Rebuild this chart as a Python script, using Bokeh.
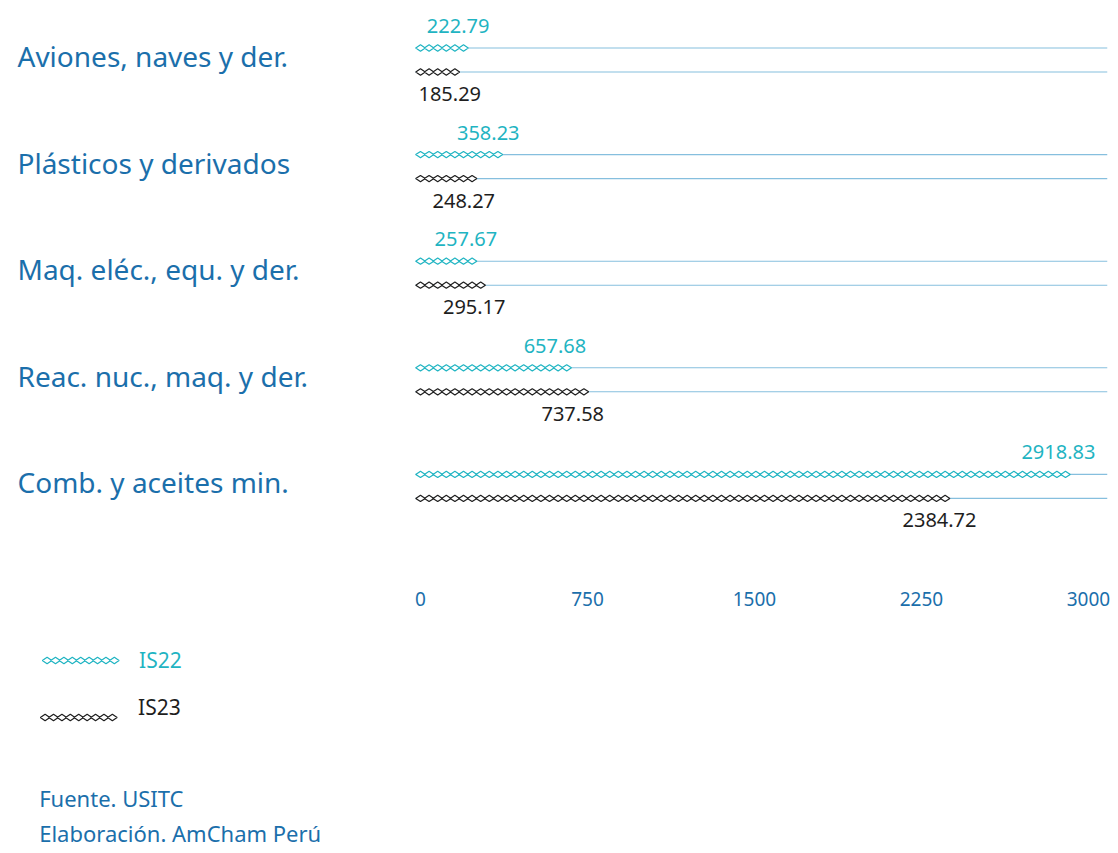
import numpy as np
from bokeh.plotting import figure
from bokeh.layouts import column
from bokeh.models import FixedTicker, Range1d
from bokeh.core.properties import value
from bokeh.embed import file_html
from bokeh.resources import INLINE

# ---------------- data ----------------
categories = ["Aviones, naves y der.", "Plásticos y derivados", "Maq. eléc., equ. y der.",
              "Reac. nuc., maq. y der.", "Comb. y aceites min."]
is22 = [222.79, 358.23, 257.67, 657.68, 2918.83]
is23 = [185.29, 248.27, 295.17, 737.58, 2384.72]
series_names = ["IS22", "IS23"]
x_ticks = [0, 750, 1500, 2250, 3000]
source_notes = ["Fuente. USITC", "Elaboración. AmCham Perú"]

# ---------------- style ----------------
FONT = "Noto Sans"
C_TEAL = "#1fb4c2"
C_DARK = "#1e1e1e"
C_BLUE = "#1b6fab"
C_TRACK = "#86bfde"

W = 1110
H1 = 613
FRAME_W = 1108 - 10
PX_PER_UNIT = 668 / 3000.0
X0_PX = 411
x_start = -X0_PX / PX_PER_UNIT
x_end = (FRAME_W - X0_PX) / PX_PER_UNIT
STEP = 8.6 / PX_PER_UNIT

PX_PER_CAT = 106.6
n = len(categories)
y_top = (n - 1) + 50.5 / PX_PER_CAT
y_bot = y_top - 570 / PX_PER_CAT
OFF = 12 / PX_PER_CAT

cat_y = [n - 1 - i for i in range(n)]
y22 = [c + OFF for c in cat_y]
y23 = [c - OFF for c in cat_y]

p = figure(width=W, height=H1, output_backend="svg", toolbar_location=None,
           x_range=Range1d(x_start, x_end), y_range=Range1d(y_bot, y_top),
           y_axis_location=None, min_border_left=9, min_border_right=W - 9 - FRAME_W,
           min_border_top=9, min_border_bottom=34)
p.outline_line_color = None
p.grid.visible = False
p.background_fill_color = "white"
p.border_fill_color = "white"

# track lines
track_start = -5 / PX_PER_UNIT
p.segment(x0=[track_start] * (2 * n), x1=[x_end] * (2 * n), y0=y22 + y23, y1=y22 + y23,
          line_color=C_TRACK, line_width=1.1)

# diamonds
for vals, ys, col in ((is22, y22, C_TEAL), (is23, y23, C_DARK)):
    xs, yy = [], []
    for v, y in zip(vals, ys):
        pts = np.arange(0, v, STEP)
        xs.extend(pts.tolist())
        yy.extend([y] * len(pts))
    p.scatter(x=xs, y=yy, marker="diamond", size=9.5, angle=np.pi / 2,
              fill_color="white", line_color=col, line_width=1.2)

# value labels
p.text(x=is22, y=y22, text=[f"{v:.2f}" for v in is22], text_align="center",
       text_baseline="middle", x_offset=-12, y_offset=-22,
       text_font=value(FONT), text_font_size="20px", text_color=C_TEAL)
p.text(x=is23, y=y23, text=[f"{v:.2f}" for v in is23], text_align="center",
       text_baseline="middle", x_offset=-12, y_offset=22,
       text_font=value(FONT), text_font_size="20px", text_color=C_DARK)

# category labels
p.text(x=[x_start] * n, y=cat_y, text=categories, text_align="left",
       text_baseline="middle", x_offset=8, y_offset=-4,
       text_font=value(FONT), text_font_size="28px", text_color=C_BLUE)

# x axis
ax = p.xaxis[0]
ax.ticker = FixedTicker(ticks=x_ticks)
ax.axis_line_color = None
ax.major_tick_line_color = None
ax.minor_tick_line_color = None
ax.major_label_text_font = FONT
ax.major_label_text_font_size = "19px"
ax.major_label_text_color = C_BLUE
ax.major_label_standoff = 6

# ---------------- legend + notes ----------------
W2 = 1102
H2 = 236
q = figure(width=W2, height=H2, output_backend="svg", toolbar_location=None,
           x_range=Range1d(0, W2), y_range=Range1d(H2, 0),
           x_axis_location=None, y_axis_location=None,
           min_border_left=0, min_border_right=0, min_border_top=0, min_border_bottom=0)
q.outline_line_color = None
q.grid.visible = False

leg_x22 = (np.arange(9) * 8.5 + 38).tolist()
leg_x23 = (np.arange(9) * 8.5 + 36).tolist()
q.scatter(x=leg_x22, y=[47] * 9, marker="diamond", size=9.5, angle=np.pi / 2,
          fill_color="white", line_color=C_TEAL, line_width=1.2)
q.scatter(x=leg_x23, y=[104] * 9, marker="diamond", size=9.5, angle=np.pi / 2,
          fill_color="white", line_color=C_DARK, line_width=1.2)
q.text(x=[131, 130], y=[46, 93], text=series_names, text_baseline="middle",
       text_color=[C_TEAL, C_DARK], text_font=value(FONT), text_font_size="21px")
q.text(x=[30, 30], y=[184, 219], text=source_notes, text_baseline="middle",
       text_color=C_BLUE, text_font=value(FONT), text_font_size="22px")

layout = column(p, q, spacing=0)
open("out.html", "w").write(file_html(layout, INLINE))
